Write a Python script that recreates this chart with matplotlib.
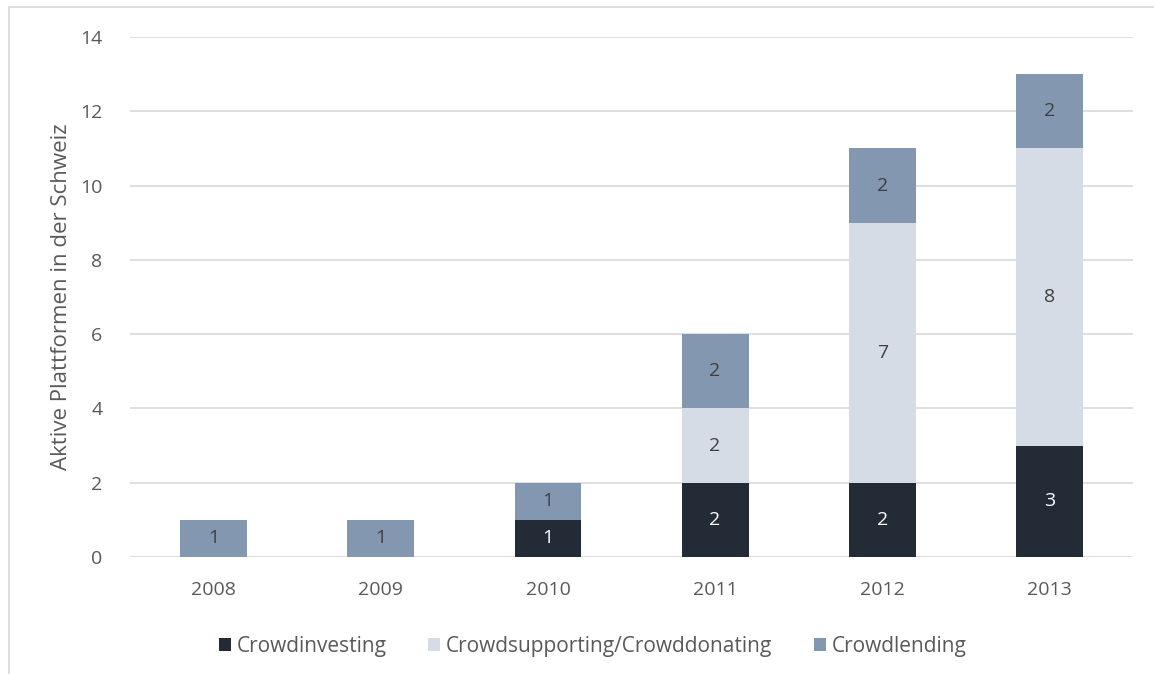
import numpy as np
import matplotlib.pyplot as plt
from matplotlib.patches import Rectangle

plt.rcParams['font.family'] = ['Open Sans', 'DejaVu Sans']

years = ['2008', '2009', '2010', '2011', '2012', '2013']
investing = [0, 0, 1, 2, 2, 3]
supporting = [0, 0, 0, 2, 7, 8]
lending = [1, 1, 1, 2, 2, 2]

series = [
    ('Crowdinvesting', investing, '#232b37', 'white'),
    ('Crowdsupporting/Crowddonating', supporting, '#d6dce5', '#404040'),
    ('Crowdlending', lending, '#8497b0', '#404040'),
]

txt = '#595959'
fig = plt.figure(figsize=(11.54, 6.74), dpi=100)
ax = fig.add_axes([0.1127, 0.1736, 0.8691, 0.7715])

x = np.arange(len(years))
bottom = np.zeros(len(years))
for name, vals, col, lcol in series:
    vals = np.array(vals, dtype=float)
    bars = ax.bar(x, vals, width=0.4, bottom=bottom, color=col, label=name, zorder=3)
    for b, v, b0 in zip(bars, vals, bottom):
        if v > 0:
            ax.text(b.get_x() + b.get_width() / 2, b0 + v / 2, f'{int(v)}',
                    ha='center', va='center', color=lcol, fontsize=14, zorder=4)
    bottom += vals

ax.set_xlim(-0.5, len(years) - 0.5)
ax.set_ylim(0, 14)
ax.set_yticks(range(0, 15, 2))
ax.set_xticks(x)
ax.set_xticklabels(years)
ax.yaxis.grid(True, color='#d9d9d9', linewidth=1.2, zorder=0)
for s in ax.spines.values():
    s.set_visible(False)
ax.tick_params(length=0, labelsize=14, labelcolor=txt)
ax.tick_params(axis='y', pad=20)
ax.tick_params(axis='x', pad=17)
ax.set_ylabel('Aktive Plattformen in der Schweiz', fontsize=16, color=txt, labelpad=6)

ax.legend(loc='upper center', bbox_to_anchor=(0.461, -0.115), ncol=3, frameon=False,
          fontsize=15, labelcolor=txt, handlelength=0.6, handleheight=0.6,
          handletextpad=0.25, columnspacing=2.0)

fig.patches.append(Rectangle((9 / 1154, -0.1), 1.2, 1 - 7 / 674 + 0.1,
                             transform=fig.transFigure, fill=False,
                             edgecolor='#d9d9d9', linewidth=1.2, clip_on=False))

fig.savefig('out.png', dpi=100)
